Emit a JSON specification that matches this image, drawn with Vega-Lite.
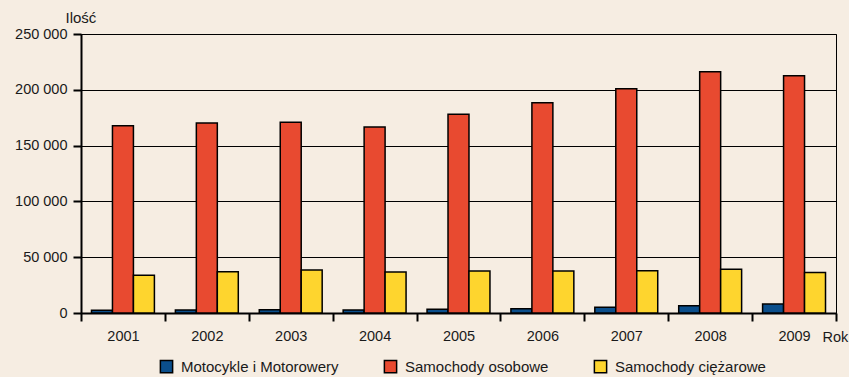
{
  "$schema": "https://vega.github.io/schema/vega-lite/v6.json",
  "width": 755,
  "height": 279,
  "autosize": {"type": "none"},
  "padding": {"left": 81, "top": 34, "right": 13, "bottom": 64},
  "background": "#f6ede2",
  "data": {
    "values": [
      {"rok": "2001", "typ": "Motocykle i Motorowery", "ilosc": 2400},
      {"rok": "2001", "typ": "Samochody osobowe", "ilosc": 167800},
      {"rok": "2001", "typ": "Samochody ciężarowe", "ilosc": 33800},
      {"rok": "2002", "typ": "Motocykle i Motorowery", "ilosc": 2700},
      {"rok": "2002", "typ": "Samochody osobowe", "ilosc": 170200},
      {"rok": "2002", "typ": "Samochody ciężarowe", "ilosc": 37000},
      {"rok": "2003", "typ": "Motocykle i Motorowery", "ilosc": 3000},
      {"rok": "2003", "typ": "Samochody osobowe", "ilosc": 170900},
      {"rok": "2003", "typ": "Samochody ciężarowe", "ilosc": 38500},
      {"rok": "2004", "typ": "Motocykle i Motorowery", "ilosc": 2700},
      {"rok": "2004", "typ": "Samochody osobowe", "ilosc": 166700},
      {"rok": "2004", "typ": "Samochody ciężarowe", "ilosc": 36700},
      {"rok": "2005", "typ": "Motocykle i Motorowery", "ilosc": 3300},
      {"rok": "2005", "typ": "Samochody osobowe", "ilosc": 178000},
      {"rok": "2005", "typ": "Samochody ciężarowe", "ilosc": 37600},
      {"rok": "2006", "typ": "Motocykle i Motorowery", "ilosc": 3900},
      {"rok": "2006", "typ": "Samochody osobowe", "ilosc": 188500},
      {"rok": "2006", "typ": "Samochody ciężarowe", "ilosc": 37600},
      {"rok": "2007", "typ": "Motocykle i Motorowery", "ilosc": 5100},
      {"rok": "2007", "typ": "Samochody osobowe", "ilosc": 201000},
      {"rok": "2007", "typ": "Samochody ciężarowe", "ilosc": 37900},
      {"rok": "2008", "typ": "Motocykle i Motorowery", "ilosc": 6600},
      {"rok": "2008", "typ": "Samochody osobowe", "ilosc": 216200},
      {"rok": "2008", "typ": "Samochody ciężarowe", "ilosc": 39100},
      {"rok": "2009", "typ": "Motocykle i Motorowery", "ilosc": 8000},
      {"rok": "2009", "typ": "Samochody osobowe", "ilosc": 212600},
      {"rok": "2009", "typ": "Samochody ciężarowe", "ilosc": 36400}
    ]
  },
  "mark": {"type": "bar", "stroke": "#000000", "strokeWidth": 1.5},
  "encoding": {
    "x": {
      "field": "rok",
      "type": "nominal",
      "scale": {"paddingInner": 0, "paddingOuter": 0},
      "axis": {
        "title": "Rok",
        "titleX": 741,
        "titleY": 24,
        "titleAlign": "left",
        "titleBaseline": "middle",
        "titleAnchor": null,
        "labelAngle": 0,
        "tickBand": "extent",
        "tickSize": 8,
        "tickWidth": 2,
        "labelPadding": 8
      }
    },
    "xOffset": {
      "field": "typ",
      "type": "nominal",
      "sort": ["Motocykle i Motorowery", "Samochody osobowe", "Samochody ciężarowe"],
      "scale": {"paddingInner": 0, "paddingOuter": 0.5}
    },
    "y": {
      "field": "ilosc",
      "type": "quantitative",
      "scale": {"domain": [0, 250000]},
      "axis": {
        "title": "Ilość",
        "titleAngle": 0,
        "titleX": -16,
        "titleY": -17,
        "titleAlign": "left",
        "titleBaseline": "middle",
        "titleAnchor": null,
        "titleFontSize": 15,
        "values": [0, 50000, 100000, 150000, 200000, 250000],
        "labelExpr": "replace(format(datum.value, ','), ',', ' ')",
        "tickSize": 8,
        "labelPadding": 6,
        "grid": true
      }
    },
    "color": {
      "field": "typ",
      "type": "nominal",
      "scale": {
        "domain": ["Motocykle i Motorowery", "Samochody osobowe", "Samochody ciężarowe"],
        "range": ["#0b4f8c", "#e84a30", "#fed52e"]
      },
      "legend": {
        "title": null,
        "orient": "none",
        "legendX": 78,
        "legendY": 325,
        "direction": "horizontal",
        "symbolType": "square",
        "symbolSize": 150,
        "symbolStrokeColor": "#000000",
        "symbolStrokeWidth": 1.5,
        "symbolOpacity": 1,
        "labelOffset": 7,
        "columnPadding": 42,
        "labelFontSize": 15,
        "labelColor": "#1a1a1a",
        "labelFont": "Liberation Sans",
        "labelLimit": 300
      }
    }
  },
  "config": {
    "view": {"stroke": "#000000", "strokeWidth": 1},
    "axis": {
      "domainColor": "#000000",
      "domainWidth": 2,
      "tickColor": "#000000",
      "tickWidth": 2,
      "gridColor": "#000000",
      "gridWidth": 1,
      "gridOpacity": 1,
      "labelFont": "Liberation Sans",
      "labelFontSize": 14.5,
      "labelColor": "#1a1a1a",
      "titleFont": "Liberation Sans",
      "titleFontSize": 14.5,
      "titleFontWeight": "normal",
      "titleColor": "#1a1a1a"
    }
  }
}
